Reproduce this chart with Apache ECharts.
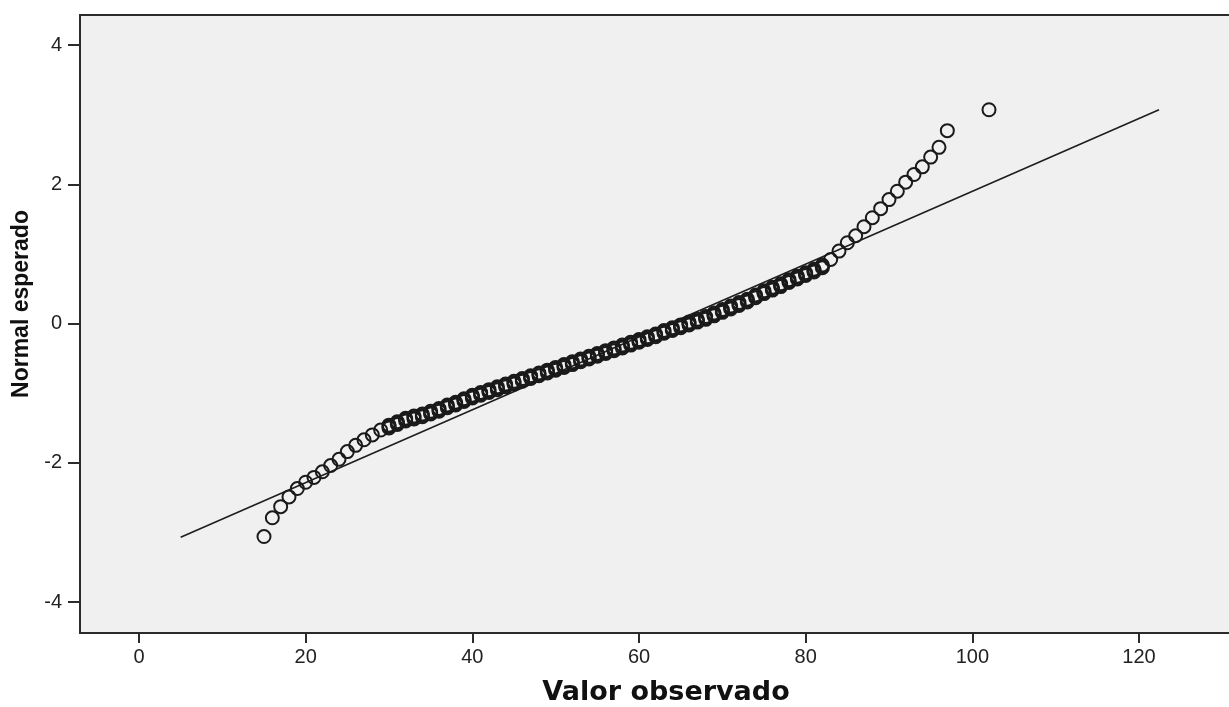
<!DOCTYPE html>
<html>
<head>
<meta charset="utf-8">
<script src="https://cdn.jsdelivr.net/npm/echarts@6/dist/echarts.min.js"></script>
<style>
html,body{margin:0;padding:0;background:#fff;}
#chart{width:1229px;height:707px;}
</style>
</head>
<body>
<div id="chart"></div>
<script>
// Observed values (x) and expected normal values (y), one case per distinct value
const observed = [15,16,17,18,19,20,21,22,23,24,25,26,27,28,29,30,31,32,33,34,35,36,37,38,39,40,41,42,43,44,45,46,47,48,49,50,51,52,53,54,55,56,57,58,59,60,61,62,63,64,65,66,67,68,69,70,71,72,73,74,75,76,77,78,79,80,81,82,83,84,85,86,87,88,89,90,91,92,93,94,95,96,97,102];
const expected = [-3.06,-2.79,-2.63,-2.49,-2.37,-2.28,-2.21,-2.13,-2.04,-1.95,-1.84,-1.75,-1.67,-1.60,-1.53,-1.48,-1.43,-1.38,-1.35,-1.32,-1.28,-1.24,-1.19,-1.15,-1.10,-1.05,-1.01,-0.97,-0.93,-0.89,-0.85,-0.81,-0.77,-0.73,-0.69,-0.65,-0.61,-0.57,-0.53,-0.49,-0.45,-0.41,-0.37,-0.33,-0.29,-0.25,-0.21,-0.17,-0.12,-0.08,-0.04,0.00,0.04,0.08,0.13,0.18,0.23,0.28,0.33,0.39,0.45,0.50,0.55,0.61,0.66,0.71,0.76,0.82,0.92,1.04,1.16,1.26,1.39,1.52,1.65,1.78,1.90,2.03,2.14,2.25,2.39,2.53,2.77,3.07];
// Tied cases (stacked circles at the same observed value)
const tiesObserved = [30,30,31,31,32,32,33,33,34,34,35,35,36,36,37,37,38,38,39,39,40,40,41,41,42,42,43,43,44,44,45,45,46,46,47,47,48,48,49,49,50,50,51,51,52,52,53,53,54,54,55,55,56,56,57,57,58,58,59,59,60,60,61,61,62,62,63,63,64,64,65,65,66,66,67,67,68,68,69,69,70,70,71,71,72,72,73,73,74,74,75,75,76,76,77,77,78,78,79,79,80,80,81,81,82,82];
const tiesExpected = [-1.50,-1.46,-1.45,-1.41,-1.40,-1.36,-1.37,-1.33,-1.34,-1.30,-1.30,-1.26,-1.26,-1.22,-1.21,-1.17,-1.17,-1.13,-1.12,-1.08,-1.07,-1.03,-1.03,-0.99,-0.99,-0.95,-0.95,-0.91,-0.91,-0.87,-0.87,-0.83,-0.83,-0.79,-0.79,-0.75,-0.75,-0.71,-0.71,-0.67,-0.67,-0.63,-0.63,-0.59,-0.59,-0.55,-0.55,-0.51,-0.51,-0.47,-0.47,-0.43,-0.43,-0.39,-0.39,-0.35,-0.35,-0.31,-0.31,-0.27,-0.27,-0.23,-0.23,-0.19,-0.19,-0.15,-0.14,-0.10,-0.10,-0.06,-0.06,-0.02,-0.02,0.02,0.02,0.06,0.06,0.10,0.11,0.15,0.16,0.20,0.21,0.25,0.26,0.30,0.31,0.35,0.37,0.41,0.43,0.47,0.48,0.52,0.53,0.57,0.59,0.63,0.64,0.68,0.69,0.73,0.74,0.78,0.80,0.84];
// Reference line end points
const refLineX = [5.0, 122.4];
const refLineY = [-3.07, 3.07];
// Tick labels
const xTicks = [0,20,40,60,80,100,120];
const yTicks = [-4,-2,0,2,4];
const xTitle = 'Valor observado';
const yTitle = 'Normal esperado';

const pts = observed.map((v,i)=>[v, expected[i]]).concat(tiesObserved.map((v,i)=>[v, tiesExpected[i]]));
const linePts = refLineX.map((v,i)=>[v, refLineY[i]]);

const chart = echarts.init(document.getElementById('chart'), null, {renderer:'canvas'});
const axisColor = '#2b2b2b';
chart.setOption({
  animation:false,
  backgroundColor:'#ffffff',
  grid:{left:80, top:15, width:1172, height:618, outerBoundsMode:'none', containLabel:false, show:true, backgroundColor:'#f0f0f0', borderColor:axisColor, borderWidth:2},
  xAxis:{
    type:'value', min:-7.08, max:133.56,
    splitLine:{show:false},
    axisLine:{show:true, onZero:false, lineStyle:{color:axisColor, width:2}},
    axisTick:{show:true, length:10, customValues:xTicks, lineStyle:{color:axisColor, width:2}},
    axisLabel:{customValues:xTicks, margin:14, color:'#222', fontSize:20, fontFamily:'Liberation Sans'},
    name:xTitle, nameLocation:'middle', nameGap:46,
    nameTextStyle:{fontFamily:'DejaVu Sans', fontWeight:'bold', fontSize:27, color:'#111'}
  },
  yAxis:{
    type:'value', min:-4.445, max:4.431,
    splitLine:{show:false},
    axisLine:{show:true, onZero:false, lineStyle:{color:axisColor, width:2}},
    axisTick:{show:true, length:12, customValues:yTicks, lineStyle:{color:axisColor, width:2}},
    axisLabel:{customValues:yTicks, margin:18, color:'#222', fontSize:20, fontFamily:'Liberation Sans'},
    name:yTitle, nameLocation:'middle', nameGap:46,
    nameTextStyle:{fontFamily:'Liberation Sans', fontWeight:'bold', fontSize:23, color:'#111', padding:[0,0,0,40]}
  },
  series:[
    {
      type:'line', data:linePts, symbol:'none', silent:true,
      lineStyle:{color:'#1e1e1e', width:1.6}, z:2
    },
    {
      type:'scatter', data:pts, symbol:'circle', symbolSize:13,
      itemStyle:{color:'rgba(0,0,0,0)', borderColor:'#1a1a1a', borderWidth:2, opacity:1}, z:3
    }
  ]
});
</script>
</body>
</html>
